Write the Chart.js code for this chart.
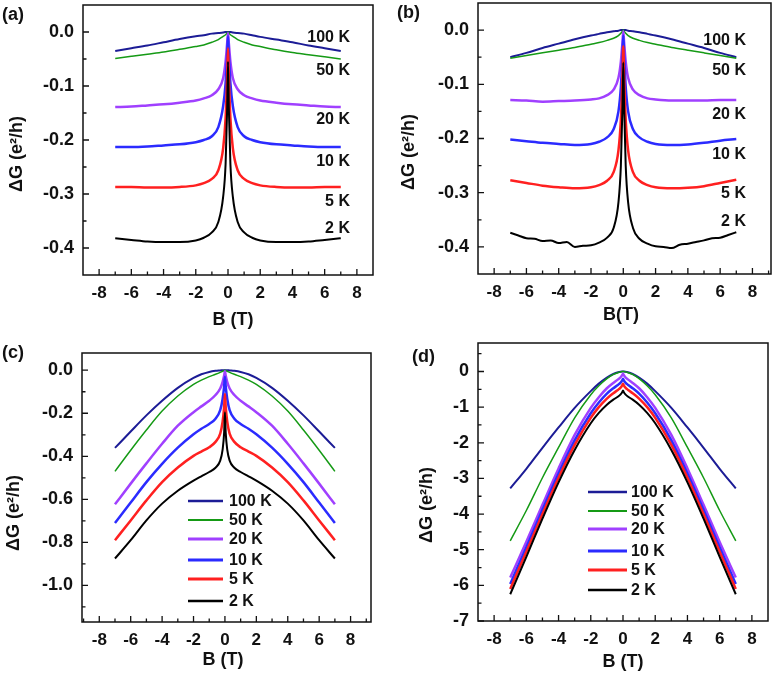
<!DOCTYPE html>
<html>
<head>
<meta charset="utf-8">
<script src="https://cdn.jsdelivr.net/npm/chart.js@4.4.1/dist/chart.umd.min.js"></script>
<style>
  body { margin: 0; background: #fff; }
  #wrap { position: relative; width: 774px; height: 682px; overflow: hidden; }
  .panel { position: absolute; }
</style>
</head>
<body>
<div id="wrap">
  <canvas class="panel" id="pa" width="387" height="340" style="left:0;top:0"></canvas>
  <canvas class="panel" id="pb" width="387" height="340" style="left:387px;top:0"></canvas>
  <canvas class="panel" id="pc" width="387" height="342" style="left:0;top:340px"></canvas>
  <canvas class="panel" id="pd" width="387" height="342" style="left:387px;top:340px"></canvas>
</div>
<script>
// champ magnétique (T), commun à presque toutes les courbes
const B = [-7, -6, -5, -4, -3, -2, -1.5, -1, -0.6, -0.3, -0.15, -0.05, 0,
           0.05, 0.15, 0.3, 0.6, 1, 1.5, 2, 3, 4, 5, 6, 7];
// grille plus fine pour la courbe bruitée 2 K de (b)
const Bn = [-7, -6.5, -6, -5.5, -5, -4.5, -4, -3.5, -3, -2.5, -2, -1.5, -1, -0.6, -0.3, -0.15, -0.05, 0,
            0.05, 0.15, 0.3, 0.6, 1, 1.5, 2, 2.5, 3, 3.5, 4, 4.5, 5, 5.5, 6, 6.5, 7];
const temps = ['100 K', '50 K', '20 K', '10 K', '5 K', '2 K'];

// graduations
const xTicks = [-8, -6, -4, -2, 0, 2, 4, 6, 8];
const yTicksAB = [-0.4, -0.3, -0.2, -0.1, 0.0];
const yTicksC = [-1.0, -0.8, -0.6, -0.4, -0.2, 0.0];
const yTicksD = [-7, -6, -5, -4, -3, -2, -1, 0];

// (a)
const a100 = [-0.035, -0.030, -0.025, -0.019, -0.013, -0.008, -0.006, -0.003, -0.002, -0.001, 0, 0, 0,
              0, 0, -0.001, -0.002, -0.003, -0.006, -0.009, -0.014, -0.019, -0.025, -0.030, -0.035];
const a50 = [-0.049, -0.045, -0.041, -0.037, -0.032, -0.027, -0.024, -0.019, -0.014, -0.008, -0.005, -0.002, 0,
             -0.002, -0.005, -0.008, -0.014, -0.019, -0.024, -0.027, -0.033, -0.038, -0.042, -0.046, -0.050];
const a20 = [-0.139, -0.138, -0.136, -0.134, -0.131, -0.127, -0.123, -0.117, -0.106, -0.085, -0.055, -0.020, -0.002,
             -0.020, -0.055, -0.085, -0.106, -0.117, -0.123, -0.127, -0.131, -0.134, -0.136, -0.138, -0.139];
const a10 = [-0.213, -0.213, -0.212, -0.210, -0.208, -0.204, -0.200, -0.193, -0.176, -0.137, -0.095, -0.040, -0.008,
             -0.040, -0.095, -0.137, -0.176, -0.193, -0.200, -0.204, -0.208, -0.210, -0.212, -0.213, -0.213];
const a5 = [-0.287, -0.287, -0.288, -0.288, -0.287, -0.284, -0.280, -0.272, -0.256, -0.215, -0.160, -0.080, -0.030,
            -0.080, -0.160, -0.215, -0.256, -0.272, -0.280, -0.284, -0.287, -0.288, -0.288, -0.287, -0.287];
const a2 = [-0.382, -0.385, -0.388, -0.389, -0.389, -0.386, -0.381, -0.371, -0.352, -0.305, -0.245, -0.140, -0.055,
            -0.140, -0.245, -0.305, -0.352, -0.371, -0.381, -0.386, -0.389, -0.389, -0.388, -0.385, -0.382];

// (b)
const b100 = [-0.050, -0.042, -0.033, -0.025, -0.017, -0.010, -0.007, -0.004, -0.002, -0.001, 0, 0, 0,
              0, 0, -0.001, -0.002, -0.004, -0.007, -0.010, -0.017, -0.025, -0.033, -0.042, -0.050];
const b50 = [-0.052, -0.047, -0.042, -0.037, -0.032, -0.026, -0.023, -0.019, -0.015, -0.010, -0.006, -0.002, 0,
             -0.002, -0.006, -0.010, -0.015, -0.019, -0.023, -0.026, -0.032, -0.037, -0.042, -0.047, -0.052];
const b20 = [-0.129, -0.130, -0.132, -0.131, -0.130, -0.128, -0.126, -0.120, -0.110, -0.088, -0.058, -0.022, -0.002,
             -0.022, -0.058, -0.088, -0.110, -0.120, -0.126, -0.128, -0.130, -0.130, -0.130, -0.129, -0.129];
const b10 = [-0.202, -0.205, -0.208, -0.210, -0.212, -0.210, -0.206, -0.198, -0.183, -0.150, -0.105, -0.045, -0.010,
             -0.045, -0.105, -0.150, -0.183, -0.198, -0.206, -0.210, -0.212, -0.211, -0.208, -0.204, -0.201];
const b5 = [-0.277, -0.282, -0.287, -0.290, -0.292, -0.290, -0.286, -0.278, -0.262, -0.222, -0.165, -0.085, -0.030,
            -0.085, -0.165, -0.222, -0.262, -0.278, -0.286, -0.290, -0.292, -0.291, -0.288, -0.282, -0.276];
const b2 = [-0.374, -0.379, -0.384, -0.385, -0.389, -0.388, -0.393, -0.391, -0.400, -0.398, -0.397, -0.392, -0.383,
            -0.365, -0.318, -0.250, -0.140, -0.060,
            -0.140, -0.250, -0.318, -0.365, -0.385, -0.394, -0.399, -0.400, -0.402, -0.396, -0.394, -0.391,
            -0.388, -0.384, -0.383, -0.378, -0.373];

// (c)
const c100 = [-0.361, -0.285, -0.210, -0.142, -0.082, -0.036, -0.019, -0.008, -0.003, -0.001, 0, 0, 0,
              0, 0, -0.001, -0.003, -0.008, -0.019, -0.036, -0.082, -0.142, -0.210, -0.285, -0.361];
const c50 = [-0.470, -0.372, -0.278, -0.190, -0.120, -0.066, -0.046, -0.030, -0.019, -0.010, -0.005, -0.002, 0,
             -0.002, -0.005, -0.010, -0.019, -0.030, -0.046, -0.066, -0.120, -0.190, -0.278, -0.372, -0.470];
const c20 = [-0.623, -0.527, -0.433, -0.342, -0.258, -0.195, -0.168, -0.142, -0.115, -0.085, -0.055, -0.025, -0.005,
             -0.025, -0.055, -0.085, -0.115, -0.142, -0.168, -0.195, -0.258, -0.342, -0.433, -0.527, -0.623];
const c10 = [-0.710, -0.615, -0.520, -0.435, -0.360, -0.298, -0.272, -0.250, -0.225, -0.185, -0.135, -0.075, -0.030,
             -0.075, -0.135, -0.185, -0.225, -0.250, -0.272, -0.298, -0.360, -0.435, -0.520, -0.615, -0.710];
const c5 = [-0.790, -0.698, -0.605, -0.520, -0.452, -0.398, -0.378, -0.358, -0.333, -0.295, -0.240, -0.170, -0.110,
            -0.170, -0.240, -0.295, -0.333, -0.358, -0.378, -0.398, -0.452, -0.520, -0.605, -0.698, -0.790];
const c2 = [-0.875, -0.790, -0.698, -0.620, -0.560, -0.513, -0.493, -0.473, -0.453, -0.420, -0.370, -0.290, -0.195,
            -0.290, -0.370, -0.420, -0.453, -0.473, -0.493, -0.513, -0.560, -0.620, -0.698, -0.790, -0.875];

// (d)
const d100 = [-3.28, -2.73, -2.14, -1.57, -1.02, -0.55, -0.34, -0.17, -0.07, -0.02, -0.005, 0, 0,
              0, -0.005, -0.02, -0.07, -0.17, -0.34, -0.55, -1.02, -1.57, -2.14, -2.73, -3.28];
const d50 = [-4.75, -3.90, -2.98, -2.13, -1.30, -0.65, -0.40, -0.20, -0.08, -0.03, -0.01, 0, 0,
             0, -0.01, -0.03, -0.08, -0.20, -0.40, -0.65, -1.30, -2.13, -2.98, -3.90, -4.75];
const d20 = [-5.78, -4.78, -3.74, -2.72, -1.78, -1.02, -0.72, -0.47, -0.32, -0.22, -0.16, -0.10, -0.06,
             -0.10, -0.16, -0.22, -0.32, -0.47, -0.72, -1.02, -1.78, -2.72, -3.74, -4.78, -5.78];
const d10 = [-5.96, -4.93, -3.88, -2.86, -1.93, -1.17, -0.87, -0.62, -0.47, -0.37, -0.31, -0.25, -0.20,
             -0.25, -0.31, -0.37, -0.47, -0.62, -0.87, -1.17, -1.93, -2.86, -3.88, -4.93, -5.96];
const d5 = [-6.10, -5.06, -4.00, -2.98, -2.06, -1.30, -1.00, -0.76, -0.61, -0.51, -0.45, -0.39, -0.34,
            -0.39, -0.45, -0.51, -0.61, -0.76, -1.00, -1.30, -2.06, -2.98, -4.00, -5.06, -6.10];
const d2 = [-6.25, -5.20, -4.13, -3.11, -2.20, -1.45, -1.16, -0.93, -0.79, -0.70, -0.64, -0.58, -0.53,
            -0.58, -0.64, -0.70, -0.79, -0.93, -1.16, -1.45, -2.20, -3.11, -4.13, -5.20, -6.25];

const lineColors = ['#1c1c96', '#159a15', '#a040ff', '#2b2bff', '#ff2020', '#000000'];
const lineWidths = [2, 1.5, 2.5, 2.5, 2.5, 2];

const FONT = 'Liberation Sans, Arial, sans-serif';

// cadre + graduations vers l'intérieur (majeures sur les ticks, mineures au milieu)
const framePlugin = {
    id: 'frame',
    afterDraw(chart) {
        const ctx = chart.ctx;
        const a = chart.chartArea;
        const xs = chart.scales.x, ys = chart.scales.y;
        ctx.save();
        ctx.strokeStyle = '#111';
        ctx.lineWidth = 1.5;
        ctx.strokeRect(a.left, a.top, a.right - a.left, a.bottom - a.top);
        ctx.lineWidth = 1.3;
        ctx.beginPath();
        const xv = xs.ticks.map(t => t.value);
        const xStep = xv[1] - xv[0];
        const xMinor = [xv[0] - xStep / 2].concat(xv.map(v => v + xStep / 2));
        xv.forEach(v => {
            const p = xs.getPixelForValue(v);
            ctx.moveTo(p, a.bottom); ctx.lineTo(p, a.bottom - 6);
        });
        xMinor.filter(v => v > xs.min && v < xs.max).forEach(v => {
            const p = xs.getPixelForValue(v);
            ctx.moveTo(p, a.bottom); ctx.lineTo(p, a.bottom - 3.5);
        });
        const yv = ys.ticks.map(t => t.value);
        const yStep = yv[1] - yv[0];
        const yMinor = yv.map(v => v - yStep / 2).concat([yv[yv.length - 1] + yStep / 2]);
        yv.forEach(v => {
            const p = ys.getPixelForValue(v);
            ctx.moveTo(a.left, p); ctx.lineTo(a.left + 6, p);
        });
        yMinor.filter(v => v > ys.min + 1e-9 && v < ys.max - 1e-9).forEach(v => {
            const p = ys.getPixelForValue(v);
            ctx.moveTo(a.left, p); ctx.lineTo(a.left + 3.5, p);
        });
        ctx.stroke();
        ctx.restore();
    }
};

// textes libres : étiquettes, titres d'axes, légende
const textPlugin = {
    id: 'texts',
    afterDraw(chart, args, opts) {
        const ctx = chart.ctx;
        ctx.save();
        ctx.fillStyle = '#111';
        ctx.textBaseline = 'middle';
        (opts.items || []).forEach(it => {
            ctx.save();
            ctx.font = it.font || ('bold 16px ' + FONT);
            ctx.textAlign = it.align || 'left';
            ctx.translate(it.x, it.y);
            if (it.rot) ctx.rotate(it.rot);
            ctx.fillText(it.t, 0, 0);
            ctx.restore();
        });
        const lg = opts.legend;
        if (lg) {
            const n = chart.data.datasets.length;
            chart.data.datasets.forEach((ds, i) => {
                const y = lg.rows[n - 1 - i];
                ctx.strokeStyle = ds.borderColor;
                ctx.lineWidth = ds.borderWidth + 0.5;
                ctx.beginPath();
                ctx.moveTo(lg.x0, y); ctx.lineTo(lg.x1, y);
                ctx.stroke();
                ctx.font = 'bold 16px ' + FONT;
                ctx.textAlign = 'left';
                ctx.fillStyle = '#111';
                ctx.fillText(ds.label, lg.tx, y + 1);
            });
        }
        ctx.restore();
    }
};

function makePanel(id, series, area, xr, yr, yTicks, yDigits, items, legend, xGrids) {
    const cv = document.getElementById(id);
    const W = cv.width, H = cv.height;
    const grids = xGrids || [];
    return new Chart(cv, {
        type: 'line',
        data: {
            // 2 K dessiné en premier, 100 K au-dessus
            datasets: series.map((s, i) => ({
                label: temps[i],
                data: (grids[i] || B).map((b, k) => ({ x: b, y: s[k] })),
                borderColor: lineColors[i],
                borderWidth: lineWidths[i],
                pointRadius: 0,
                cubicInterpolationMode: 'monotone',
                fill: false
            })).reverse()
        },
        options: {
            responsive: false,
            animation: false,
            events: [],
            layout: { padding: { left: 0, top: area[1], right: W - area[2], bottom: 0 } },
            plugins: {
                legend: { display: false },
                tooltip: { enabled: false },
                texts: { items: items, legend: legend }
            },
            scales: {
                x: {
                    type: 'linear', min: xr[0], max: xr[1],
                    grid: { display: false, drawTicks: false },
                    border: { display: false },
                    afterBuildTicks: s => { s.ticks = xTicks.map(v => ({ value: v })); },
                    ticks: { padding: 8, color: '#111', font: { family: FONT, size: 17, weight: 'bold' },
                             callback: v => String(Math.round(v)) },
                    afterFit: s => {
                        s.height = H - area[3];
                        s.paddingLeft = 0; s.paddingRight = 0;
                    }
                },
                y: {
                    type: 'linear', min: yr[0], max: yr[1],
                    grid: { display: false, drawTicks: false },
                    border: { display: false },
                    afterBuildTicks: s => { s.ticks = yTicks.map(v => ({ value: v })); },
                    ticks: { padding: 9, color: '#111', font: { family: FONT, size: 18, weight: 'bold' },
                             callback: v => (Math.abs(v) < 1e-9 ? 0 : v).toFixed(yDigits) },
                    afterFit: s => {
                        s.width = area[0];
                        s.paddingTop = 0; s.paddingBottom = 0;
                    }
                }
            }
        },
        plugins: [framePlugin, textPlugin]
    });
}

const ROT = -Math.PI / 2;
const TFONT = 'bold 18px ' + FONT;

makePanel('pa', [a100, a50, a20, a10, a5, a2], [83, 5, 373, 275], [-9, 9], [-0.45, 0.05], yTicksAB, 1, [
    { t: '(a)', x: 2, y: 15, font: 'bold 18px ' + FONT },
    { t: 'ΔG (e²/h)', x: 17, y: 154, rot: ROT, align: 'center', font: TFONT },
    { t: 'B (T)', x: 233, y: 320, align: 'center', font: TFONT },
    { t: '100 K', x: 350, y: 38, align: 'right' },
    { t: '50 K', x: 350, y: 71, align: 'right' },
    { t: '20 K', x: 350, y: 120, align: 'right' },
    { t: '10 K', x: 350, y: 162, align: 'right' },
    { t: '5 K', x: 350, y: 202, align: 'right' },
    { t: '2 K', x: 350, y: 229, align: 'right' }
]);

makePanel('pb', [b100, b50, b20, b10, b5, b2], [91, 3, 384, 274], [-9, 9.15], [-0.45, 0.05], yTicksAB, 1, [
    { t: '(b)', x: 10, y: 13, font: 'bold 18px ' + FONT },
    { t: 'ΔG (e²/h)', x: 22, y: 152, rot: ROT, align: 'center', font: TFONT },
    { t: 'B(T)', x: 234, y: 315, align: 'center', font: TFONT },
    { t: '100 K', x: 359, y: 41, align: 'right' },
    { t: '50 K', x: 359, y: 71, align: 'right' },
    { t: '20 K', x: 359, y: 115, align: 'right' },
    { t: '10 K', x: 359, y: 155, align: 'right' },
    { t: '5 K', x: 359, y: 194, align: 'right' },
    { t: '2 K', x: 359, y: 222, align: 'right' }
], null, [null, null, null, null, null, Bn]);

makePanel('pc', [c100, c50, c20, c10, c5, c2], [82, 13, 371, 282], [-9.1, 9.3], [-1.17, 0.08], yTicksC, 1, [
    { t: '(c)', x: 2, y: 13, font: 'bold 18px ' + FONT },
    { t: 'ΔG (e²/h)', x: 14, y: 173, rot: ROT, align: 'center', font: TFONT },
    { t: 'B (T)', x: 223, y: 320, align: 'center', font: TFONT }
], { x0: 188, x1: 223, tx: 229, rows: [161, 180, 199, 220, 239, 261] });

makePanel('pd', [d100, d50, d20, d10, d5, d2], [91, 3, 381, 281], [-9, 9], [-7, 0.8], yTicksD, 0, [
    { t: '(d)', x: 25, y: 17, font: 'bold 18px ' + FONT },
    { t: 'ΔG (e²/h)', x: 40, y: 165, rot: ROT, align: 'center', font: TFONT },
    { t: 'B (T)', x: 236, y: 322, align: 'center', font: TFONT }
], { x0: 201, x1: 240, tx: 244, rows: [152, 171, 189, 211, 230, 250] });
</script>
</body>
</html>
